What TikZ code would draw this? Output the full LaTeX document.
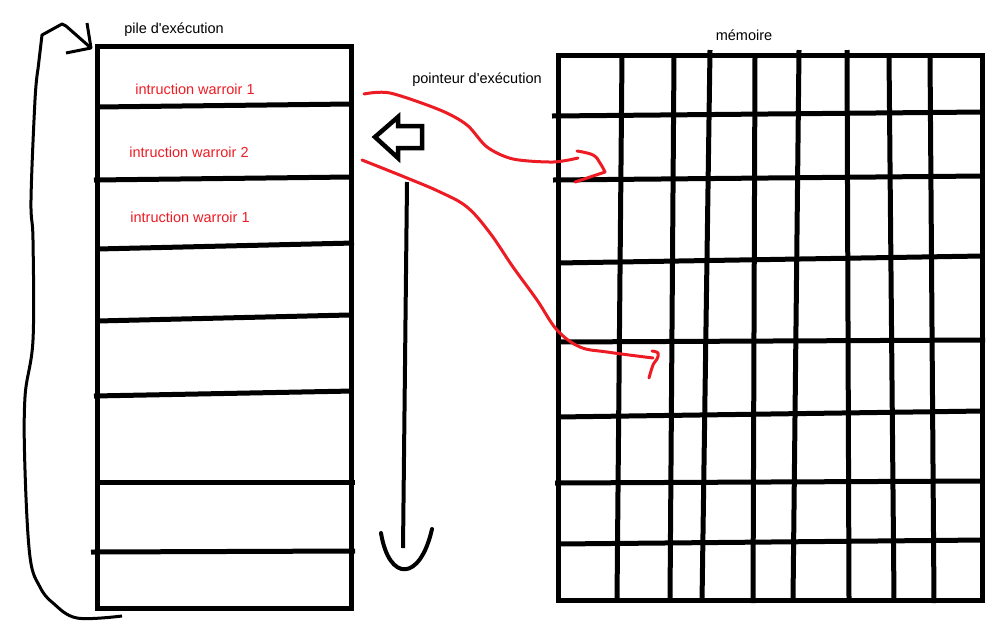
\documentclass[tikz,border=0pt]{standalone}
\usepackage{fontspec}
\setmainfont{Liberation Sans}
\definecolor{paintred}{RGB}{237,28,36}

\begin{document}
\begin{tikzpicture}[x=1pt,y=-1pt,font=\fontsize{14.5}{14.5}\selectfont,
  trait/.style={black,line width=5pt},
  fin/.style={black,line width=3pt,line join=round},
  rouge/.style={paintred,line width=3pt,line cap=round,line join=round}]
\useasboundingbox (0,0) rectangle (1008,630);
% pile d'execution
\draw [trait] (97,46) rectangle (351,608);
\draw [trait] (97,107) --(351,104);
\draw [trait] (94,180) --(351,177);
\draw [trait] (97,249) --(354,243);
\draw [trait] (97,321) --(349,315);
\draw [trait] (94,396) --(353,391);
\draw [trait] (97,482) --(355,482);
\draw [trait] (91,552) --(355,551);
\node (pile) at (174,30) {pile d\textquotesingle exécution};
\node [paintred] (instr1) at (195,89) {intruction warroir 1};
\node [paintred] (instr2) at (189,152) {intruction warroir 2};
\node [paintred] (instr3) at (190,217) {intruction warroir 1};
% boucle
\coordinate (boucleA) at (122,616);
\coordinate (boucleB) at (91,48);
\draw [fin] plot [smooth, tension=0.6] coordinates {(boucleA) (77,618) (53,603) (40,587) (30,557) (25,470) (25,397) (33,340) (33,240) (31,200) (35,100) (38,69)} --(42,35) --(62,24) --(66,26) --(boucleB);
\draw [fin] (87,23) --(boucleB) --(66,53);
% fleches du milieu
\draw [fin, line width=4.5pt, line join=miter] (375,137) --(398,117) --(398,126) --(422,126) --(422,148) --(398,148) --(398,158) --cycle;
\coordinate (haut) at (407,182);
\coordinate (bas) at (403,548);
\draw [trait, line width=4pt] (haut) --(bas);
\draw [fin, line width=4pt, line cap=round] (381,533) .. controls (389,582) and (420,582) .. (432,529);
\node (pointeur) at (477,80) {pointeur d\textquotesingle exécution};
% memoire
\node (memoire) at (744,35) {mémoire};
\draw [trait] (558,55) rectangle (982,600);
\draw [trait] (552,116) --(983,112);
\draw [trait] (553,180) --(982,176);
\draw [trait] (557,263) --(982,256);
\draw [trait] (557,342) --(985,340);
\draw [trait] (557,417) --(983,411);
\draw [trait] (555,483) --(982,481);
\draw [trait] (557,544) --(983,540);
\draw [trait] (622,55) --(617,600);
\draw [trait] (674,55) --(670,600);
\draw [trait] (710,50) --(702,602);
\draw [trait] (755,55) --(753,603);
\draw [trait] (799,50) --(793,600);
\draw [trait] (847,50) --(849,600);
\draw [trait] (889,55) --(894,600);
\draw [trait] (930,55) --(934,603);
% pointeurs
\coordinate (depart1) at (364,94);
\coordinate (cible1) at (578,158);
\coordinate (depart2) at (362,160);
\coordinate (cible2) at (653,358);
\draw [rouge] plot [smooth, tension=0.5] coordinates {(depart1) (390,93) (440,110) (467,125) (487,147) (513,159) (553,162) (cible1)};
\draw [rouge] plot [smooth, tension=0.7] coordinates {(577,151) (593,155) (600,163) (605,172)} --(590,177) --(575,182);
\draw [rouge] plot [smooth, tension=0.6] coordinates {(depart2) (407,178) (440,192) (467,207) (490,233) (513,267) (537,300) (557,330) (580,347) (607,352) (cible2)};
\draw [rouge] plot [smooth, tension=0.7] coordinates {(652,351) (658,353) (657,359) (653,365) (649,378)};
\end{tikzpicture}
\end{document}
